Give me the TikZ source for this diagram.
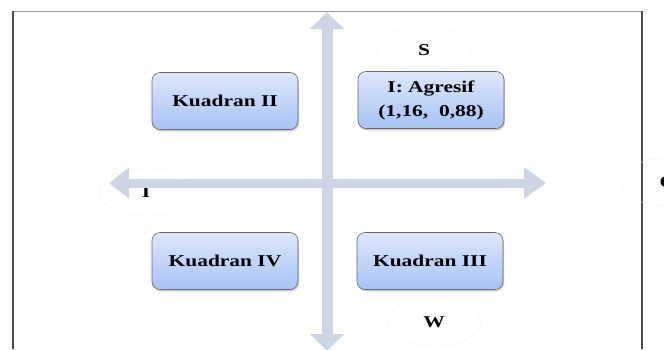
\documentclass[tikz,border=0pt]{standalone}
\usepackage{fontspec}
\setmainfont[FakeStretch=1.3]{Liberation Serif}
\usetikzlibrary{arrows.meta,shapes.geometric,shadows}

\definecolor{boxtop}{HTML}{DDE7FB}
\definecolor{boxbot}{HTML}{A6C3F5}
\definecolor{axisblue}{HTML}{CCD5E6}

\begin{document}
\begin{tikzpicture}[x=1pt, y=-1pt,
  quadbox/.style={draw=black!60, line width=0.6pt, rounded corners=8pt,
    top color=boxtop, bottom color=boxbot, minimum width=146pt, minimum height=57pt,
    align=center, font=\fontsize{16.5}{24}\selectfont\bfseries,
    drop shadow={opacity=0.35, shadow xshift=1pt, shadow yshift=-2pt}},
  axislabel/.style={ellipse, draw=black!5, minimum width=94pt, minimum height=48pt,
    font=\fontsize{16.5}{20}\selectfont\bfseries},
  axisline/.style={draw=axisblue, line width=11pt,
    {Triangle[width=33pt,length=17pt]}-{Triangle[width=33pt,length=17pt]}}]
  \useasboundingbox (0,0) rectangle (664,349);

  % frame
  \draw[black!40, line width=1pt] (13,11) -- (642,11); % top edge
  \draw[black!70, line width=2pt] (13,11) -- (13,349); % left edge
  \draw[black!70, line width=2pt] (642,11) -- (642,349); % right edge

  % axis labels
  \node[axislabel] (s) at (424,50)  {S}; % top
  \node[axislabel] (w) at (434,322) {W}; % bottom
  \node[axislabel] (i) at (146,192) {I}; % left, half under the axis
  \node[axislabel] (o) at (668,182) {O}; % right, cut off

  % axis ends
  \coordinate (top)    at (327,12);
  \coordinate (bottom) at (327,351);
  \coordinate (left)   at (109,183);
  \coordinate (right)  at (546,183);

  % axes
  \draw[axisline] (bottom) -- (top);  % vertical
  \draw[axisline, {Triangle[width=30pt,length=20pt]}-{Triangle[width=30pt,length=22pt]}, line width=9pt] (left) -- (right); % horizontal

  % quadrants
  \node[quadbox] (q2) at (225,101) {Kuadran II};          % top-left
  \node[quadbox] (q1) at (431,100) {I: Agresif\\(1,16, \ 0,88)}; % top-right
  \node[quadbox] (q4) at (225,261) {Kuadran IV};          % bottom-left
  \node[quadbox] (q3) at (430,261) {Kuadran III};         % bottom-right
\end{tikzpicture}
\end{document}
